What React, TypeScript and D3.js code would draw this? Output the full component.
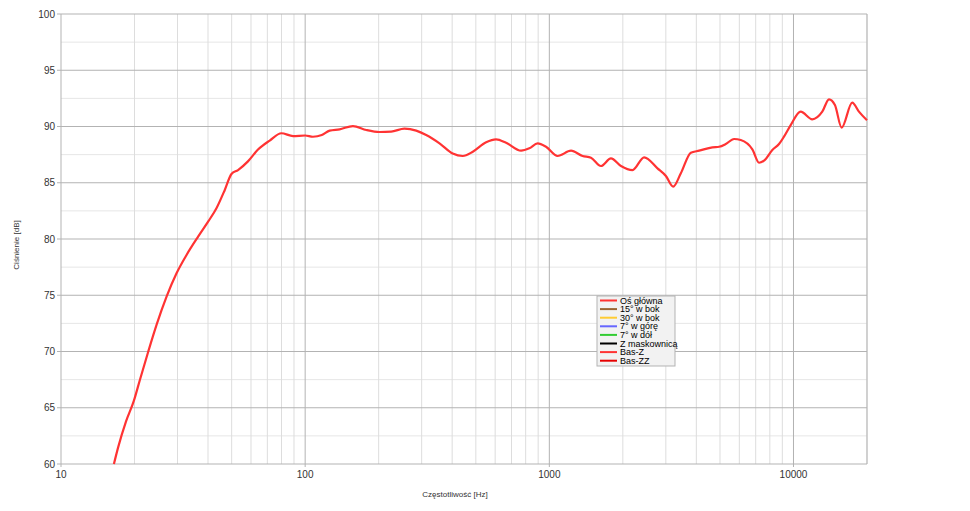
import React from "react";
import * as d3 from "d3";

const freqs = [16.47, 17.15, 18.45, 19.89, 21.04, 22.76, 24.62, 27.06, 29.73, 32.67, 36.44, 40.04, 43.32, 46.86, 49.9, 53.1, 58.3, 64.1, 71.6, 79.9, 89.2, 100, 107.6, 117, 126, 138.4, 156.9, 178, 201.7, 225, 255, 285, 313, 355, 402, 442, 486, 551, 605, 665, 766, 828, 896, 969, 1081, 1227, 1368, 1481, 1627, 1788, 1965, 2191, 2446, 2773, 3002, 3216, 3456, 3798, 4108, 4655, 4959, 5281, 5709, 6081, 6784, 7226, 7574, 8191, 8723, 9143, 9739, 10701, 11937, 13118, 13975, 14781, 15747, 17400, 18535, 20000];
const spl = [60, 61.5, 63.76, 65.63, 67.47, 69.98, 72.36, 74.87, 76.95, 78.58, 80.21, 81.54, 82.73, 84.36, 85.78, 86.13, 86.9, 87.95, 88.75, 89.4, 89.15, 89.2, 89.09, 89.24, 89.63, 89.75, 90.04, 89.69, 89.51, 89.54, 89.81, 89.63, 89.24, 88.5, 87.6, 87.38, 87.76, 88.6, 88.86, 88.56, 87.85, 88.06, 88.5, 88.2, 87.38, 87.85, 87.38, 87.23, 86.49, 87.17, 86.49, 86.13, 87.26, 86.28, 85.6, 84.65, 85.84, 87.67, 87.85, 88.15, 88.2, 88.44, 88.89, 88.8, 87.97, 86.78, 86.96, 87.91, 88.44, 89.1, 90.13, 91.32, 90.64, 91.32, 92.42, 91.91, 89.9, 92.12, 91.32, 90.55];

const yTicks = [60, 65, 70, 75, 80, 85, 90, 95, 100];
const xTicks = [10, 100, 1000, 10000];
const legendNames = ["Oś główna", "15° w bok", "30° w bok", "7° w górę", "7° w dół", "Z maskownicą", "Bas-Z", "Bas-ZZ"];
const legendColors = ["#ff3333", "#996633", "#ffcc33", "#6666ff", "#33cc33", "#000000", "#ff3333", "#e60000"];

export default function App() {
  const left = 61, right = 867, top = 14, bottom = 464;
  const x = d3.scaleLog().domain([10, 20000]).range([left, right]);
  const y = d3.scaleLinear().domain([60, 100]).range([bottom, top]);

  const minorX: number[] = [];
  for (let dec = 10; dec <= 10000; dec *= 10) {
    for (let m = 2; m <= 9; m++) {
      const f = dec * m;
      if (f <= 20000) minorX.push(f);
    }
  }
  const minorY: number[] = [];
  for (let v = 62.5; v < 100; v += 5) minorY.push(v);

  const pts = freqs.map((f, i) => [f, spl[i]] as [number, number]);
  const line = d3
    .line<[number, number]>()
    .x((d) => x(d[0]))
    .y((d) => y(d[1]))
    .curve(d3.curveMonotoneX);

  const font = "'Liberation Sans', Arial, sans-serif";
  const lgX = 597, lgY = 296, rowH = 8.6;

  return (
    <svg width={970} height={511} style={{ position: "absolute", left: 0, top: 0, background: "#fff" }} fontFamily={font}>
      <rect x={0} y={0} width={970} height={511} fill="#fff" />
      {minorY.map((v) => (
        <line key={"my" + v} x1={left} x2={right} y1={y(v)} y2={y(v)} stroke="#e6e6e6" strokeWidth={1} />
      ))}
      {minorX.map((f) => (
        <line key={"mx" + f} x1={x(f)} x2={x(f)} y1={top} y2={bottom} stroke="#dddddd" strokeWidth={1} />
      ))}
      {yTicks.map((v) => (
        <line key={"gy" + v} x1={left - 4} x2={right} y1={y(v)} y2={y(v)} stroke="#b3b3b3" strokeWidth={1} />
      ))}
      {xTicks.map((f) => (
        <line key={"gx" + f} x1={x(f)} x2={x(f)} y1={top} y2={bottom + 3} stroke="#b3b3b3" strokeWidth={1} />
      ))}
      <line x1={right} x2={right} y1={top} y2={bottom} stroke="#b3b3b3" strokeWidth={1} />
      {yTicks.map((v) => (
        <text key={"ty" + v} x={left - 6} y={y(v)} dy="0.35em" textAnchor="end" fontSize={10} fill="#333">
          {v}
        </text>
      ))}
      {xTicks.map((f) => (
        <text key={"tx" + f} x={x(f)} y={bottom + 14} textAnchor="middle" fontSize={10} fill="#333">
          {f}
        </text>
      ))}
      <text x={455} y={497} textAnchor="middle" fontSize={8} fill="#333">
        Częstotliwość [Hz]
      </text>
      <text transform="translate(19,245) rotate(-90)" textAnchor="middle" fontSize={8} fill="#333">
        Ciśnienie [dB]
      </text>
      <path d={line(pts) || ""} fill="none" stroke="#ff3333" strokeWidth={2.2} />
      <rect x={lgX} y={lgY} width={78} height={70} fill="#f2f2f2" stroke="#b3b3b3" strokeWidth={1} />
      {legendNames.map((n, i) => (
        <g key={n}>
          <line x1={lgX + 3} x2={lgX + 20} y1={lgY + 4.5 + i * rowH} y2={lgY + 4.5 + i * rowH} stroke={legendColors[i]} strokeWidth={2} />
          <text x={lgX + 23} y={lgY + 4.5 + i * rowH} dy="0.35em" fontSize={9} fill="#000">
            {n}
          </text>
        </g>
      ))}
    </svg>
  );
}
